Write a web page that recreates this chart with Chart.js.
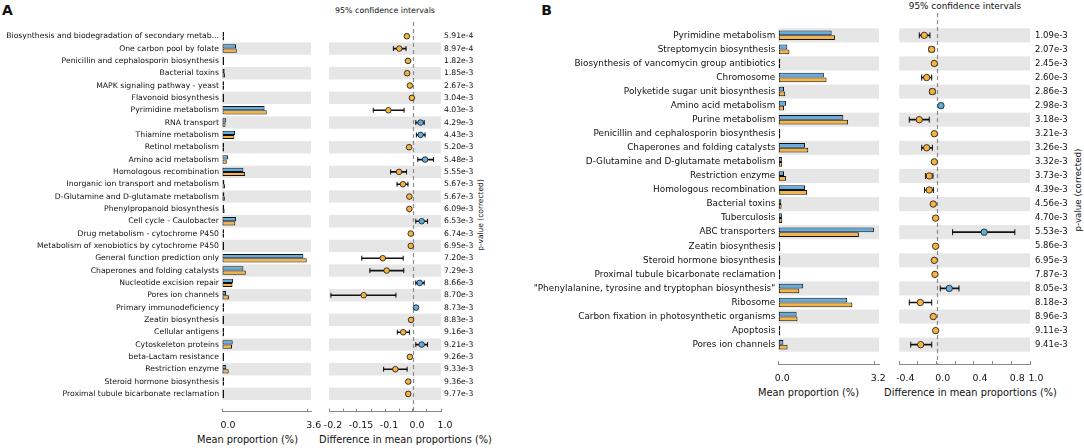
<!DOCTYPE html>
<html><head><meta charset="utf-8">
<script src="https://cdn.jsdelivr.net/npm/chart.js@4.4.1/dist/chart.umd.min.js"></script>
<style>
html,body{margin:0;padding:0;background:#fff;}
body{width:1084px;height:448px;position:relative;overflow:hidden;font-family:'DejaVu Sans',sans-serif;color:#111;}
canvas{position:absolute;top:0;}
.t{position:absolute;white-space:nowrap;transform:translate(-50%,-50%);line-height:1;}
.rot{transform:translate(-50%,-50%) rotate(-90deg);}
</style></head><body>
<div class="t" style="left:7.5px;top:10px;font-size:14px;font-weight:bold">A</div>
<div class="t" style="left:546.5px;top:10px;font-size:14px;font-weight:bold">B</div>
<div class="t" style="left:385px;top:10.7px;font-size:7.9px">95% confidence intervals</div>
<div class="t" style="left:965px;top:6px;font-size:8.9px">95% confidence intervals</div>
<div class="t rot" style="left:481px;top:215px;font-size:7.5px">p-value (corrected)</div>
<div class="t rot" style="left:1078px;top:190px;font-size:8.7px">p-value (corrected)</div>
<div class="t" style="left:247.5px;top:440px;font-size:9.8px">Mean proportion (%)</div>
<div class="t" style="left:405.5px;top:440px;font-size:9.8px">Difference in mean proportions (%)</div>
<div class="t" style="left:808.5px;top:392.7px;font-size:9.8px">Mean proportion (%)</div>
<div class="t" style="left:970.5px;top:392.7px;font-size:9.8px">Difference in mean proportions (%)</div>
<canvas id="barA" style="left:0px" width="331" height="448"></canvas>
<canvas id="diffA" style="left:305px" width="235" height="448"></canvas>
<canvas id="barB" style="left:490px" width="409" height="400"></canvas>
<canvas id="diffB" style="left:875px" width="209" height="400"></canvas>
<script>
// ---------------- Panel A data ----------------
const catsA = [
  "Biosynthesis and biodegradation of secondary metab...",
  "One carbon pool by folate",
  "Penicillin and cephalosporin biosynthesis",
  "Bacterial toxins",
  "MAPK signaling pathway - yeast",
  "Flavonoid biosynthesis",
  "Pyrimidine metabolism",
  "RNA transport",
  "Thiamine metabolism",
  "Retinol metabolism",
  "Amino acid metabolism",
  "Homologous recombination",
  "Inorganic ion transport and metabolism",
  "D-Glutamine and D-glutamate metabolism",
  "Phenylpropanoid biosynthesis",
  "Cell cycle - Caulobacter",
  "Drug metabolism - cytochrome P450",
  "Metabolism of xenobiotics by cytochrome P450",
  "General function prediction only",
  "Chaperones and folding catalysts",
  "Nucleotide excision repair",
  "Pores ion channels",
  "Primary immunodeficiency",
  "Zeatin biosynthesis",
  "Cellular antigens",
  "Cytoskeleton proteins",
  "beta-Lactam resistance",
  "Restriction enzyme",
  "Steroid hormone biosynthesis",
  "Proximal tubule bicarbonate reclamation"
];
const blueA   = [0.02,0.59,0.02,0.11,0.04,0.02,1.79,0.18,0.55,0.02,0.25,0.90,0.10,0.10,0.09,0.59,0.02,0.02,3.42,0.90,0.46,0.17,0.09,0.04,0.01,0.45,0.02,0.18,0.01,0.01];
const orangeA = [0.03,0.62,0.03,0.13,0.05,0.03,1.88,0.15,0.52,0.03,0.20,0.97,0.13,0.12,0.11,0.56,0.03,0.03,3.56,1.00,0.44,0.29,0.08,0.05,0.02,0.42,0.03,0.28,0.02,0.02];
const diffA   = [-0.022,-0.049,-0.018,-0.021,-0.011,-0.004,-0.088,0.027,0.027,-0.014,0.043,-0.050,-0.036,-0.013,-0.013,0.031,-0.008,-0.008,-0.108,-0.094,0.024,-0.176,0.011,-0.007,-0.035,0.031,-0.011,-0.063,-0.017,-0.017];
const ciLoA   = [-0.027,-0.070,-0.021,-0.027,-0.013,-0.006,-0.142,0.010,0.012,-0.017,0.017,-0.080,-0.057,-0.016,-0.016,0.010,-0.010,-0.010,-0.183,-0.154,0.010,-0.293,0.006,-0.009,-0.056,0.010,-0.013,-0.105,-0.023,-0.023];
const ciHiA   = [-0.017,-0.025,-0.015,-0.015,-0.009,-0.002,-0.032,0.040,0.043,-0.011,0.073,-0.023,-0.018,-0.010,-0.010,0.052,-0.006,-0.006,-0.035,-0.033,0.040,-0.061,0.016,-0.005,-0.013,0.052,-0.009,-0.021,-0.011,-0.011];
const pA = ["5.91e-4","8.97e-4","1.82e-3","1.85e-3","2.67e-3","3.04e-3","4.03e-3","4.29e-3","4.43e-3","5.20e-3","5.48e-3","5.55e-3","5.67e-3","5.67e-3","6.09e-3","6.53e-3","6.74e-3","6.95e-3","7.20e-3","7.29e-3","8.66e-3","8.70e-3","8.73e-3","8.83e-3","9.16e-3","9.21e-3","9.26e-3","9.33e-3","9.36e-3","9.77e-3"];
const barTicksA = [0, 3.6];
const barTickLabelsA = ["0.0", "3.6"];
const diffTicksA = [-0.3,-0.25,-0.2,-0.15,-0.1,-0.05,0,0.05,0.1];
const diffTickLabelsA = ["-0.2","","-0.15","","-0.1","","0.0","","1.0"];

// ---------------- Panel B data ----------------
const catsB = [
  "Pyrimidine metabolism",
  "Streptomycin biosynthesis",
  "Biosynthesis of vancomycin group antibiotics",
  "Chromosome",
  "Polyketide sugar unit biosynthesis",
  "Amino acid metabolism",
  "Purine metabolism",
  "Penicillin and cephalosporin biosynthesis",
  "Chaperones and folding catalysts",
  "D-Glutamine and D-glutamate metabolism",
  "Restriction enzyme",
  "Homologous recombination",
  "Bacterial toxins",
  "Tuberculosis",
  "ABC transporters",
  "Zeatin biosynthesis",
  "Steroid hormone biosynthesis",
  "Proximal tubule bicarbonate reclamation",
  "\"Phenylalanine, tyrosine and tryptophan biosynthesis\"",
  "Ribosome",
  "Carbon fixation in photosynthetic organisms",
  "Apoptosis",
  "Pores ion channels"
];
const blueB   = [1.78,0.30,0.03,1.52,0.19,0.26,2.17,0.02,0.89,0.12,0.19,0.89,0.10,0.12,3.19,0.04,0.02,0.02,0.83,2.30,0.61,0.02,0.17];
const orangeB = [1.89,0.37,0.04,1.61,0.23,0.19,2.33,0.03,1.00,0.13,0.26,0.96,0.11,0.13,2.69,0.05,0.03,0.03,0.70,2.47,0.64,0.03,0.31];
const diffB   = [-0.133,-0.053,-0.025,-0.107,-0.046,0.046,-0.186,-0.025,-0.107,-0.025,-0.079,-0.079,-0.036,-0.011,0.509,-0.011,-0.025,-0.018,0.135,-0.175,-0.036,-0.011,-0.171];
const ciLoB   = [-0.186,-0.080,-0.030,-0.160,-0.070,0.030,-0.293,-0.030,-0.160,-0.030,-0.120,-0.130,-0.042,-0.015,0.171,-0.015,-0.030,-0.023,0.039,-0.293,-0.042,-0.015,-0.278];
const ciHiB   = [-0.072,-0.029,-0.020,-0.053,-0.020,0.065,-0.079,-0.020,-0.046,-0.020,-0.040,-0.035,-0.030,-0.007,0.837,-0.007,-0.020,-0.013,0.239,-0.053,-0.030,-0.007,-0.053];
const pB = ["1.09e-3","2.07e-3","2.45e-3","2.60e-3","2.86e-3","2.98e-3","3.18e-3","3.21e-3","3.26e-3","3.32e-3","3.73e-3","4.39e-3","4.56e-3","4.70e-3","5.53e-3","5.86e-3","6.95e-3","7.87e-3","8.05e-3","8.18e-3","8.96e-3","9.11e-3","9.41e-3"];
const barTicksB = [0, 3.2];
const barTickLabelsB = ["0.0", "3.2"];
const diffTicksB = [-0.4,-0.2,0,0.2,0.4,0.6,0.8,1.0];
const diffTickLabelsB = ["-0.4","","0.0","","0.4","","0.8","1.0"];

// ---------------- styling ----------------
const BLUE = '#62AEE3';
const ORANGE = '#F6B443';
const BAND = '#E6E6E6';
const EDGE = '#111111';
const AXIS = '#8a8a8a';
Chart.defaults.font.family = "'DejaVu Sans', sans-serif";
Chart.defaults.color = '#111';

const bandPlugin = {
  id: 'bands',
  beforeDatasetsDraw(chart, args, o) {
    const {ctx, chartArea, scales} = chart;
    const y = scales.y, x = scales.x;
    ctx.save();
    ctx.fillStyle = o.color;
    for (let i = o.parity; i < o.count; i += 2) {
      const a = y.getPixelForValue(i - 0.5), b = y.getPixelForValue(i + 0.5);
      ctx.fillRect(chartArea.left, Math.min(a, b), chartArea.right - chartArea.left, Math.abs(b - a));
    }
    if (o.zero) {
      const px = Math.round(x.getPixelForValue(0)) + 0.5;
      ctx.strokeStyle = '#8c8c8c';
      ctx.lineWidth = 1.2;
      ctx.setLineDash([4, 3]);
      ctx.beginPath();
      ctx.moveTo(px, chartArea.top - (o.extendTop || 0));
      ctx.lineTo(px, chartArea.bottom);
      ctx.stroke();
    }
    ctx.restore();
  }
};

function rowAxis(labels, min, max, fontSize, position, width, padding) {
  return {
    type: 'linear', position: position, min: min, max: max, reverse: true, bounds: 'data',
    grid: {display: false, drawTicks: false}, border: {display: false},
    afterBuildTicks: s => { s.ticks = labels.map((_, i) => ({value: i})); },
    afterFit: s => { s.width = width; },
    ticks: {autoSkip: false, padding: padding, font: {size: fontSize}, color: '#111',
            callback: v => labels[v]}
  };
}
function valueAxis(min, max, tickVals, tickLabels, height, labelOffset) {
  return {
    type: 'linear', position: 'bottom', min: min, max: max, bounds: 'data',
    grid: {display: true, drawOnChartArea: false, drawTicks: true, tickLength: -3, color: AXIS, lineWidth: 1},
    border: {display: true, color: AXIS, width: 1},
    afterBuildTicks: s => { s.ticks = tickVals.map(v => ({value: v})); },
    afterFit: s => { s.height = height; },
    ticks: {autoSkip: false, maxRotation: 0, padding: 11.5, labelOffset: labelOffset,
            font: {size: 9.4}, color: '#111', callback: (v, i) => tickLabels[i]}
  };
}
function baseOptions(padding, bands) {
  return {
    indexAxis: 'y', responsive: false, maintainAspectRatio: false, animation: false, events: [],
    layout: {padding: padding},
    plugins: {legend: {display: false}, tooltip: {enabled: false}, title: {display: false}, bands: bands}
  };
}
function barChart(id, cats, blue, orange, rows, xcfg, fontSize, yWidth, padding, parity) {
  const opts = baseOptions(padding, {parity: parity, count: cats.length, color: BAND});
  opts.scales = {
    x: valueAxis(xcfg.min, xcfg.max, xcfg.ticks, xcfg.labels, xcfg.height, xcfg.offset),
    y: rowAxis(cats, rows.min, rows.max, fontSize, 'left', yWidth, 3)
  };
  const common = {borderColor: EDGE, borderWidth: 1, borderSkipped: false,
                  categoryPercentage: 0.68, barPercentage: 1.0, minBarLength: 2};
  new Chart(document.getElementById(id), {
    type: 'bar',
    data: {datasets: [
      Object.assign({label: 'Group 1', data: blue.map((v, i) => ({x: v, y: i})), backgroundColor: BLUE}, common),
      Object.assign({label: 'Group 2', data: orange.map((v, i) => ({x: v, y: i})), backgroundColor: ORANGE}, common)
    ]},
    options: opts,
    plugins: [bandPlugin]
  });
}
function diffChart(id, diff, lo, hi, pvals, rows, xcfg, fontSize, yWidth, pPad, padding, parity, ptR, capR, extendTop) {
  const opts = baseOptions(padding, {parity: parity, count: pvals.length, color: BAND, zero: true, extendTop: extendTop});
  opts.scales = {
    x: valueAxis(xcfg.min, xcfg.max, xcfg.ticks, xcfg.labels, xcfg.height, xcfg.offset),
    y: rowAxis(pvals, rows.min, rows.max, fontSize, 'right', yWidth, pPad)
  };
  const cap = {type: 'line', showLine: false, pointStyle: 'line', pointRotation: 90, pointRadius: capR,
               pointBorderColor: EDGE, pointBorderWidth: 1, borderColor: EDGE, indexAxis: 'y'};
  new Chart(document.getElementById(id), {
    type: 'bar',
    data: {datasets: [
      {type: 'line', label: 'Difference', indexAxis: 'y', showLine: false,
       data: diff.map((v, i) => ({x: v, y: i})),
       pointRadius: ptR, pointBorderColor: EDGE, pointBorderWidth: 0.8, borderColor: EDGE,
       pointBackgroundColor: diff.map(v => v < 0 ? ORANGE : BLUE)},
      Object.assign({label: 'CI low', data: lo.map((v, i) => ({x: v, y: i}))}, cap),
      Object.assign({label: 'CI high', data: hi.map((v, i) => ({x: v, y: i}))}, cap),
      {type: 'bar', label: '95% CI', indexAxis: 'y', barThickness: 1, backgroundColor: EDGE, borderWidth: 0,
       data: lo.map((v, i) => ({x: [v, hi[i]], y: i}))}
    ]},
    options: opts,
    plugins: [bandPlugin]
  });
}

const rowsA = {min: -0.627, max: 29.917};
const rowsB = {min: -0.837, max: 22.837};

barChart('barA', catsA, blueA, orangeA, rowsA,
  {min: 0, max: 3.74, ticks: barTicksA, labels: barTickLabelsA, height: 36.3, offset: 6},
  7.7, 222, {left: 0, right: 20, top: 22, bottom: 0}, 1);
diffChart('diffA', diffA, ciLoA, ciHiA, pA, rowsA,
  {min: -0.3, max: 0.1, ticks: diffTicksA, labels: diffTickLabelsA, height: 36.3, offset: 4},
  7.7, 99, 3, {left: 24, right: 0, top: 22, bottom: 0}, 1, 2.8, 2.5, 0);
barChart('barB', catsB, blueB, orangeB, rowsB,
  {min: 0, max: 3.36, ticks: barTicksB, labels: barTickLabelsB, height: 36, offset: 4},
  8.9, 288.3, {left: 0, right: 20, top: 16, bottom: 0}, 0);
diffChart('diffB', diffB, ciLoB, ciHiB, pB, rowsB,
  {min: -0.4, max: 1.0, ticks: diffTicksB, labels: diffTickLabelsB, height: 36, offset: 6},
  8.5, 54, 5, {left: 24.3, right: 0, top: 16, bottom: 0}, 0, 3.2, 3, 3);
</script>
</body></html>
